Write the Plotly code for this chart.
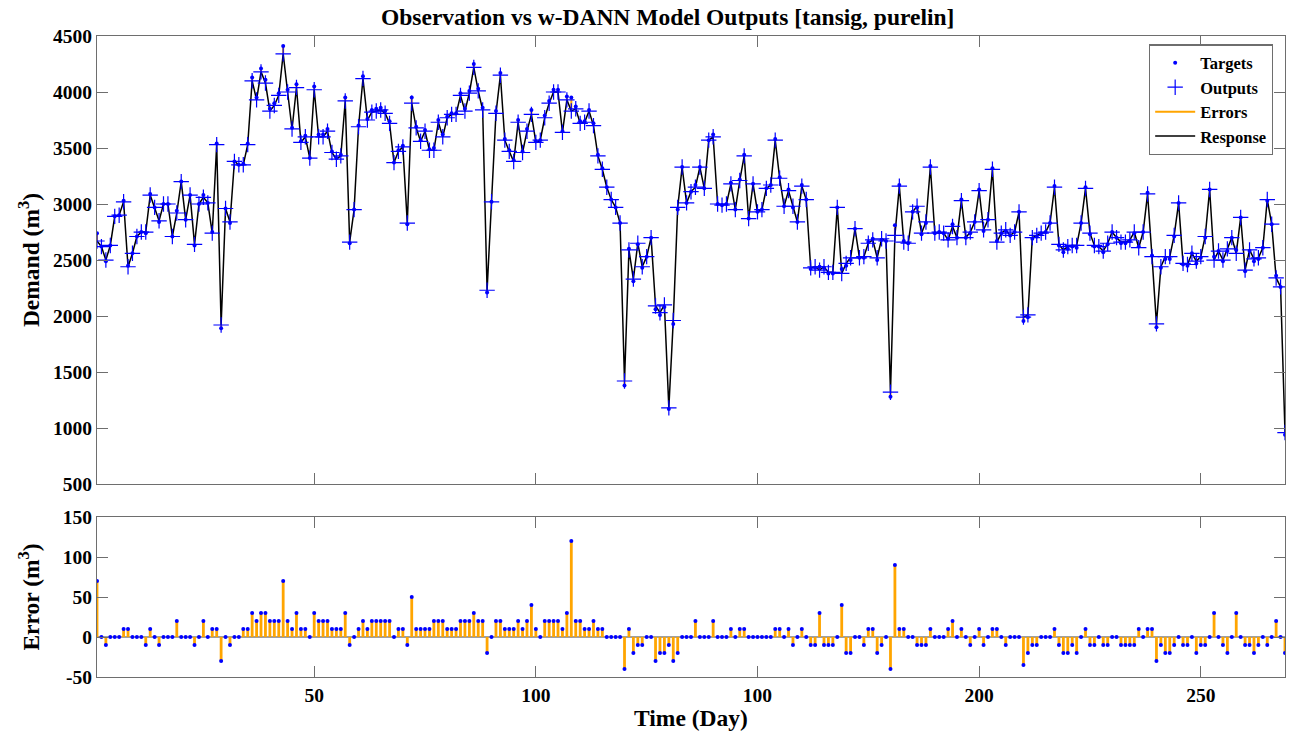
import plotly.graph_objects as go
from plotly.subplots import make_subplots

days = list(range(1, 270))

outputs = [
    2670, 2620, 2500, 2630, 2890, 2900, 3020, 2440, 2560, 2710,
    2750, 2750, 3080, 2970, 2850, 3000, 3000, 2710, 2920, 3200,
    2860, 3080, 2640, 3000, 3060, 3010, 2740, 3530, 1920, 2960,
    2840, 3380, 3350, 3350, 3530, 4100, 3930, 4180, 4080, 3830,
    3880, 3970, 4340, 4000, 3670, 4040, 3550, 3600, 3410, 4020,
    3600, 3600, 3650, 3460, 3400, 3430, 3920, 2660, 2950, 3690,
    4120, 3750, 3820, 3830, 3840, 3810, 3720, 3370, 3470, 3510,
    2830, 3900, 3680, 3560, 3650, 3480, 3480, 3730, 3600, 3770,
    3800, 3800, 3970, 3830, 3990, 4220, 4010, 3840, 2230, 3020,
    3810, 4150, 3570, 3470, 3380, 3730, 3460, 3650, 3800, 3550,
    3570, 3770, 3900, 4000, 4000, 3640, 3930, 3830, 3850, 3720,
    3730, 3830, 3700, 3430, 3310, 3150, 3040, 2970, 2830, 1420,
    2590, 2330, 2650, 2440, 2530, 2700, 2090, 2030, 2100, 1180,
    1960, 2970, 3330, 3010, 3110, 3150, 3330, 3140, 3570, 3600,
    3000, 2990, 3000, 3180, 2950, 3210, 3430, 2870, 3180, 2930,
    2950, 3140, 3170, 3570, 3230, 2980, 3120, 2980, 2840, 3160,
    3040, 2430, 2440, 2410, 2440, 2390, 2390, 2970, 2380, 2470,
    2520, 2780, 2520, 2530, 2650, 2680, 2520, 2690, 2670, 1320,
    2720, 3160, 2660, 2650, 2930, 2980, 2740, 2840, 3330, 2740,
    2750, 2740, 2680, 2800, 2700, 3030, 2700, 2750, 2840, 3120,
    2770, 2860, 3310, 2660, 2740, 2770, 2720, 2750, 2930, 1990,
    2010, 2700, 2720, 2740, 2750, 2830, 3150, 2640, 2590, 2620,
    2630, 2630, 2830, 3140, 2740, 2630, 2620, 2580, 2650, 2750,
    2700, 2660, 2660, 2680, 2750, 2610, 2750, 3090, 2530, 1930,
    2440, 2530, 2530, 2720, 3010, 2470, 2460, 2560, 2490, 2530,
    2710, 3130, 2500, 2580, 2500, 2600, 2700, 2560, 2880, 2410,
    2590, 2510, 2520, 2610, 3040, 2820, 2340, 2260, 960,
]

errors = [
    70, 0, -10, 0, 0, 0, 10, 10, 0, 0,
    0, -10, 10, 0, -10, 0, 0, 0, 20, 0,
    0, 0, -10, 0, 20, 0, 10, 10, -30, 0,
    -10, 0, 0, 10, 10, 30, 20, 30, 30, 20,
    20, 20, 70, 20, 10, 30, 10, 10, 0, 30,
    20, 20, 20, 10, 10, 10, 30, -10, 0, 10,
    20, 10, 20, 20, 20, 20, 20, 0, 10, 10,
    -10, 50, 10, 10, 10, 10, 20, 20, 20, 10,
    10, 10, 20, 20, 20, 30, 20, 20, -20, 0,
    20, 20, 10, 10, 10, 20, 10, 20, 40, 10,
    0, 20, 20, 20, 20, 10, 30, 120, 20, 20,
    10, 10, 20, 10, 10, 0, 0, 0, 0, -40,
    10, -20, -10, -10, 0, 0, -30, -20, -20, -10,
    -30, -20, 0, 0, 0, 20, 0, 0, 0, 20,
    0, 0, 0, 10, 0, 10, 10, 0, 0, 0,
    0, 0, 0, 10, 10, 0, 10, -10, 0, 10,
    0, -10, -10, 30, -10, -10, -10, 0, 40, -20,
    -20, 0, 0, -10, 10, 10, -20, -10, 0, -40,
    90, 10, 10, 0, 0, -10, -10, -10, 10, 0,
    0, 0, 10, 20, 0, 10, 0, -10, 0, 10,
    -10, 0, 10, 10, 0, -10, 0, 0, 0, -35,
    -20, -10, -10, 0, 0, 0, 10, -10, -20, -20,
    -10, -20, 0, 10, -10, -10, 0, -10, -10, 0,
    0, -10, -10, -10, -10, 10, 0, 10, 10, -30,
    -10, -20, -20, -10, 0, -10, -10, 0, -20, -10,
    -10, 0, 30, 0, -10, -20, 0, 30, 0, -10,
    -10, -20, -10, 0, -10, 0, 20, 0, -20,
]

targets = [o + e for o, e in zip(outputs, errors)]

x_tickvals = [50, 100, 150, 200, 250]
x_ticktext = ["50", "100", "100", "200", "250"]
demand_ticks = [500, 1000, 1500, 2000, 2500, 3000, 3500, 4000, 4500]
error_ticks = [-50, 0, 50, 100, 150]

FONT = "Liberation Serif, Times New Roman, serif"
BLUE = "#0000FF"
ORANGE = "#FFA500"
AXC = "#6e6e6e"
TICK_SIZE = 19.5
TITLE_SIZE = 23.5

fig = make_subplots(rows=2, cols=1, shared_xaxes=False, vertical_spacing=0.0,
                    row_heights=[0.75, 0.25])

# top error segments (target - output)
ex, ey = [], []
for d, o, t in zip(days, outputs, targets):
    ex += [d, d, None]
    ey += [o, t, None]

# bottom stems
sx, sy = [], []
for d, e in zip(days, errors):
    sx += [d, d, None]
    sy += [0, e, None]

fig.add_trace(go.Scatter(x=ex, y=ey, mode="lines", line=dict(color=ORANGE, width=2),
                         name="<b>Errors</b>", legendrank=3, hoverinfo="skip"), row=1, col=1)
fig.add_trace(go.Scatter(x=days, y=outputs, mode="lines", line=dict(color="black", width=1.5),
                         name="<b>Response</b>", legendrank=4), row=1, col=1)
fig.add_trace(go.Scatter(x=days, y=outputs, mode="markers",
                         marker=dict(symbol="cross-thin", size=11, line=dict(color=BLUE, width=1.2)),
                         name="<b>Outputs</b>", legendrank=2), row=1, col=1)
fig.add_trace(go.Scatter(x=days, y=targets, mode="markers",
                         marker=dict(symbol="circle", size=4, color=BLUE),
                         name="<b>Targets</b>", legendrank=1), row=1, col=1)

fig.add_trace(go.Scatter(x=[1, 269], y=[0, 0], mode="lines", line=dict(color="#808080", width=1.5),
                         showlegend=False, hoverinfo="skip"), row=2, col=1)
fig.add_trace(go.Scatter(x=sx, y=sy, mode="lines", line=dict(color=ORANGE, width=2.8),
                         showlegend=False, hoverinfo="skip"), row=2, col=1)
fig.add_trace(go.Scatter(x=days, y=errors, mode="markers", marker=dict(size=4, color=BLUE),
                         showlegend=False), row=2, col=1)

axis_common = dict(showline=True, linecolor=AXC, linewidth=1.2, mirror="ticks",
                   ticks="inside", ticklen=11, tickcolor=AXC, showgrid=False, zeroline=False,
                   tickfont=dict(family=FONT, size=TICK_SIZE, color="black"))

fig.update_xaxes(range=[1, 269], tickvals=x_tickvals,
                 ticktext=[f"<b>{t}</b>" for t in x_ticktext], **axis_common)
fig.update_xaxes(showticklabels=False, row=1, col=1)
fig.update_xaxes(title=dict(text="<b>Time (Day)</b>", font=dict(family=FONT, size=TITLE_SIZE, color="black"),
                            standoff=0), row=2, col=1)
fig.update_yaxes(**axis_common)
fig.update_yaxes(range=[500, 4500], tickvals=demand_ticks,
                 ticktext=[f"<b>{v}</b>" for v in demand_ticks],
                 title=dict(text="<b>Demand (m<sup>3</sup>)</b>",
                            font=dict(family=FONT, size=TITLE_SIZE, color="black"), standoff=6),
                 domain=[0.301, 1.0], row=1, col=1)
fig.update_yaxes(range=[-50, 150], tickvals=error_ticks,
                 ticktext=[f"<b>{v}</b>" for v in error_ticks],
                 title=dict(text="<b>Error (m<sup>3</sup>)</b>",
                            font=dict(family=FONT, size=TITLE_SIZE, color="black"), standoff=16),
                 domain=[0.0, 0.2496], row=2, col=1)

fig.update_layout(
    width=1289, height=735,
    margin=dict(l=97, r=4, t=36, b=58),
    paper_bgcolor="white", plot_bgcolor="white",
    title=dict(text="<b>Observation vs w-DANN Model Outputs [tansig, purelin]</b>",
               font=dict(family=FONT, size=TITLE_SIZE, color="black"),
               x=0.518, xref="container", xanchor="center",
               y=1 - 17 / 735, yref="container", yanchor="middle"),
    legend=dict(x=0.8855, y=0.987, xanchor="left", yanchor="top",
                bgcolor="white", bordercolor=AXC, borderwidth=1.2,
                font=dict(family=FONT, size=16.5, color="black"),
                itemwidth=40, tracegroupgap=0),
    showlegend=True,
)

fig.write_html("out.html",
               config={"displayModeBar": False},
               post_script="document.body.style.margin='0px';document.body.style.overflow='hidden';")
